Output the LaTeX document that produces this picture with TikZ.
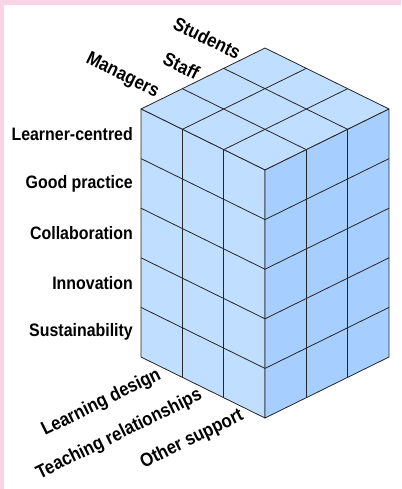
\documentclass[tikz,border=0pt]{standalone}
\usepackage{fontspec}
\setmainfont{Liberation Sans}
\newfontfamily\narrowsans{Liberation Sans}[FakeStretch=0.885]
\usetikzlibrary{calc}

\definecolor{facetop}{HTML}{C0DEFF}
\definecolor{faceleft}{HTML}{C0DEFF}
\definecolor{faceright}{HTML}{A6CFFF}
\definecolor{edgepink}{HTML}{F9D4E5}

\begin{document}
\begin{tikzpicture}[x=1pt, y=-1pt,
    cell/.style={draw=black!85, line width=0.8pt, line join=round},
    rowlab/.style={anchor=east, inner sep=3pt, font=\narrowsans\bfseries\fontsize{18}{20}\selectfont},
    toplab/.style={anchor=south east, inner sep=2pt, rotate=-26.2, font=\narrowsans\bfseries\fontsize{19}{21}\selectfont},
    botlab/.style={anchor=north east, inner sep=2pt, rotate=26.2, font=\narrowsans\bfseries\fontsize{19}{21}\selectfont}]
  \useasboundingbox (0,0) rectangle (401,489);
  \fill[white] (0,0) rectangle (401,489);
  \fill[edgepink] (0,0) rectangle (401,5);
  \fill[edgepink] (0,0) rectangle (4,489);

  % front top corner and one step along each axis
  \coordinate (F) at (265,170);
  \coordinate (u) at (-41.33,-20.33);
  \coordinate (v) at (41.33,-20.33);
  \coordinate (w) at (0,49.6);

  % faces
  \filldraw[cell, fill=facetop] (F) -- ($(F)+3*(u)$) -- ($(F)+3*(u)+3*(v)$) -- ($(F)+3*(v)$) -- cycle;
  \filldraw[cell, fill=faceleft] (F) -- ($(F)+3*(u)$) -- ($(F)+3*(u)+5*(w)$) -- ($(F)+5*(w)$) -- cycle;
  \filldraw[cell, fill=faceright] (F) -- ($(F)+3*(v)$) -- ($(F)+3*(v)+5*(w)$) -- ($(F)+5*(w)$) -- cycle;

  % grid
  \foreach \i in {1,2} {
    \draw[cell] ($(F)+\i*(u)$) -- ($(F)+\i*(u)+3*(v)$);
    \draw[cell] ($(F)+\i*(v)$) -- ($(F)+\i*(v)+3*(u)$);
    \draw[cell] ($(F)+\i*(u)$) -- ($(F)+\i*(u)+5*(w)$);
    \draw[cell] ($(F)+\i*(v)$) -- ($(F)+\i*(v)+5*(w)$);
  }
  \foreach \j in {1,...,4} {
    \draw[cell] ($(F)+\j*(w)$) -- ($(F)+\j*(w)+3*(u)$);
    \draw[cell] ($(F)+\j*(w)$) -- ($(F)+\j*(w)+3*(v)$);
  }

  % labels
  \foreach \t [count=\j from 0] in {Learner-centred, Good practice, Collaboration, Innovation, Sustainability}
    \node[rowlab] (row\j) at ($(F)+3*(u)+\j*(w)+0.5*(w)+(-5,0)$) {\t};
  \foreach \t [count=\i from 0] in {Managers, Staff, Students}
    \node[toplab] (grp\i) at ($(F)+3*(u)+\i*(v)+0.5*(v)+(-7,5)$) {\t};
  \foreach \t [count=\i from 0] in {Other support, Teaching relationships, Learning design}
    \node[botlab] (area\i) at ($(F)+5*(w)+\i*(u)+0.5*(u)+(-5,-4)$) {\t};
\end{tikzpicture}
\end{document}
